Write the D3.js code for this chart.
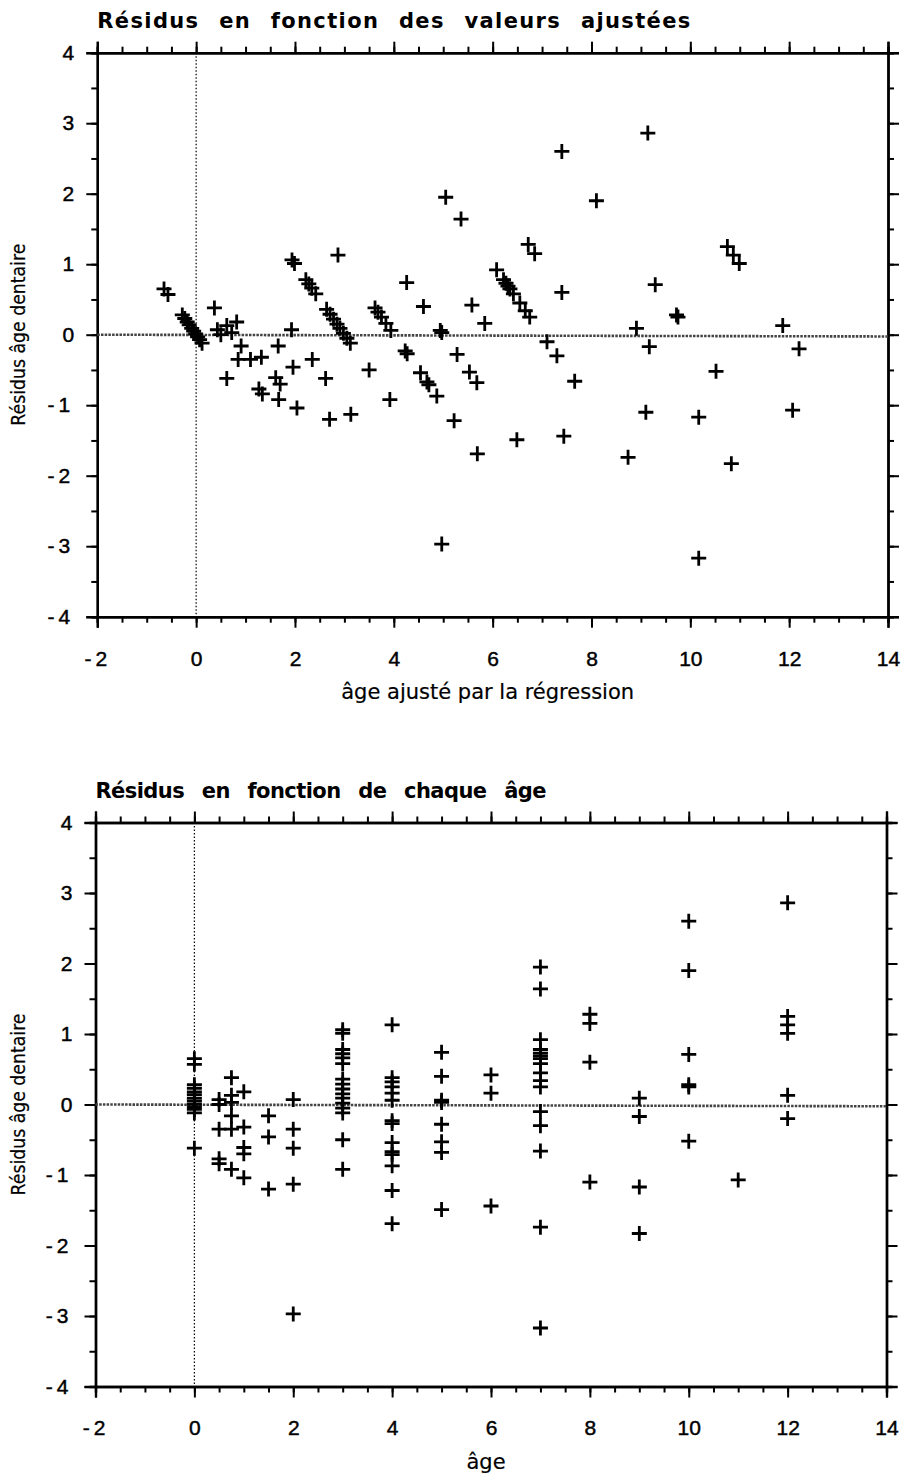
<html>
<head>
  <title>Résidus âge dentaire</title>
  <meta charset="utf-8" />
  <script src="https://cdnjs.cloudflare.com/ajax/libs/d3/7.8.5/d3.min.js"></script>
  <style>
    body { margin: 0; background: #fff; }
    text { font-family: "Liberation Sans", Arial, sans-serif; fill: #000; }
    .titre { font-family: "DejaVu Sans", Verdana, sans-serif; font-weight: bold; font-size: 21px; word-spacing: 11px; }
    .etiquette { font-family: "DejaVu Sans", Verdana, sans-serif; font-size: 21px; stroke: #000; stroke-width: 0.2px; }
    .domain { stroke-width: 2.4px; }
    .tick line { stroke-width: 2px; }
  </style>
</head>
<body>
  <svg></svg>
<script>

// chaque observation : âge réel, âge ajusté par la régression, résidu
var ages = [
  0, 0, 0, 0, 0, 0, 0, 0, 0, 0, 0, 0, 0,
  0.5, 0.5, 0.5, 0.5, 0.5,
  0.75, 0.75, 0.75, 0.75, 0.75, 0.75,
  1, 1, 1, 1, 1,
  1.5, 1.5, 1.5,
  2, 2, 2, 2, 2,
  3, 3, 3, 3, 3, 3, 3, 3, 3, 3, 3, 3, 3, 3, 3, 3,
  4, 4, 4, 4, 4, 4, 4, 4, 4, 4, 4, 4, 4, 4,
  5, 5, 5, 5, 5, 5, 5, 5,
  6, 6, 6,
  7, 7, 7, 7, 7, 7, 7, 7, 7, 7, 7, 7, 7, 7, 7, 7,
  8, 8, 8, 8,
  9, 9, 9, 9,
  10, 10, 10, 10, 10, 10,
  11,
  12, 12, 12, 12, 12, 12
]
var ajustes = [
  -0.65, -0.57, -0.28, -0.23, -0.18, -0.14, -0.09, -0.05, -0.01, 0.03, 0.07, 0.12, 0.62,
  0.43, 0.5, 0.85, 1.27, 1.34,
  0.37, 0.62, 0.72, 0.91, 1.10, 1.67,
  0.82, 1.32, 1.61, 1.70, 2.04,
  1.66, 1.96, 2.7,
  1.93, 2.35, 2.62, 3.13, 4.97,
  1.94, 1.99, 2.22, 2.28, 2.34, 2.42, 2.64, 2.71, 2.78, 2.85, 2.91, 2.98, 3.05, 3.12, 3.50, 3.92,
  2.87, 3.62, 3.68, 3.75, 3.84, 3.94, 4.23, 4.27, 4.54, 4.67, 4.71, 4.87, 5.22, 5.69,
  4.26, 4.60, 4.94, 4.97, 5.28, 5.53, 5.68, 6.49,
  5.58, 5.84, 7.44,
  5.05, 5.36, 6.08, 6.22, 6.27, 6.31, 6.35, 6.42, 6.55, 6.66, 6.75, 7.10, 7.30, 7.66, 8.74, 10.17,
  6.72, 6.85, 7.40, 9.10,
  8.91, 9.17, 10.17, 10.83,
  7.40, 8.10, 9.29, 9.72, 9.75, 10.52,
  12.07,
  9.14, 10.75, 10.87, 10.99, 11.87, 12.20
]
var residus = [
  0.65, 0.57, 0.28, 0.23, 0.18, 0.14, 0.09, 0.05, 0.01, -0.03, -0.07, -0.12, -0.62,
  0.07, 0.0, -0.35, -0.77, -0.84,
  0.38, 0.13, 0.03, -0.16, -0.35, -0.92,
  0.18, -0.32, -0.61, -0.70, -1.04,
  -0.16, -0.46, -1.2,
  0.07, -0.35, -0.62, -1.13, -2.97,
  1.06, 1.01, 0.78, 0.72, 0.66, 0.58, 0.36, 0.29, 0.22, 0.15, 0.09, 0.02, -0.05, -0.12, -0.50, -0.92,
  1.13, 0.38, 0.32, 0.25, 0.16, 0.06, -0.23, -0.27, -0.54, -0.67, -0.71, -0.87, -1.22, -1.69,
  0.74, 0.40, 0.06, 0.03, -0.28, -0.53, -0.68, -1.49,
  0.42, 0.16, -1.44,
  1.95, 1.64, 0.92, 0.78, 0.73, 0.69, 0.65, 0.58, 0.45, 0.34, 0.25, -0.10, -0.30, -0.66, -1.74, -3.17,
  1.28, 1.15, 0.60, -1.10,
  0.09, -0.17, -1.17, -1.83,
  2.60, 1.90, 0.71, 0.28, 0.25, -0.52,
  -1.07,
  2.86, 1.25, 1.13, 1.01, 0.13, -0.20
]

var xDomaine = [-2, 14]
var yDomaine = [-4, 4]
var xGraduations = [-2, 0, 2, 4, 6, 8, 10, 12, 14]
var yGraduations = [-4, -3, -2, -1, 0, 1, 2, 3, 4]
// ligne des résidus nuls (légèrement inclinée sur l'original)
var ligneZero = [0, -0.025]

var svg = d3.select("svg").attr("width", 906).attr("height", 1478)

function panneau(opts) {
  var x = d3.scaleLinear().domain(xDomaine).range([opts.left, opts.right])
  var y = d3.scaleLinear().domain(yDomaine).range([opts.bottom, opts.top])
  var g = svg.append("g")

  var xMineur = d3.range(-2, 14.01, 0.5)
  var yMineur = d3.range(-4, 4.01, 0.5)
  var fmt = d => d < 0 ? "-" + Math.abs(d) : d

  // petites graduations
  g.append("g").attr("transform", "translate(0," + opts.bottom + ")")
    .call(d3.axisBottom(x).tickValues(xMineur).tickSize(6).tickFormat(""))
  g.append("g").attr("transform", "translate(0," + opts.top + ")")
    .call(d3.axisTop(x).tickValues(xMineur).tickSize(6).tickFormat(""))
  g.append("g").attr("transform", "translate(" + opts.left + ",0)")
    .call(d3.axisLeft(y).tickValues(yMineur).tickSize(6).tickFormat(""))
  g.append("g").attr("transform", "translate(" + opts.right + ",0)")
    .call(d3.axisRight(y).tickValues(yMineur).tickSize(6).tickFormat(""))

  // grandes graduations
  g.append("g").attr("transform", "translate(0," + opts.bottom + ")")
    .call(d3.axisBottom(x).tickValues(xGraduations).tickSize(11).tickPadding(23).tickFormat(fmt))
  g.append("g").attr("transform", "translate(0," + opts.top + ")")
    .call(d3.axisTop(x).tickValues(xGraduations).tickSize(11).tickFormat(""))
  g.append("g").attr("transform", "translate(" + opts.left + ",0)")
    .call(d3.axisLeft(y).tickValues(yGraduations).tickSize(11).tickPadding(12).tickFormat(fmt))
  g.append("g").attr("transform", "translate(" + opts.right + ",0)")
    .call(d3.axisRight(y).tickValues(yGraduations).tickSize(11).tickFormat(""))
  g.selectAll(".domain").attr("stroke", "black")
  g.selectAll(".tick text")
    .style("font-family", "'Liberation Sans', Arial, sans-serif")
    .style("font-size", "21px")
    .style("stroke", "#000").style("stroke-width", "0.45px")
    .attr("letter-spacing", d => d < 0 ? "4px" : null)

  // repères x = 0 et résidu = 0
  g.append("line")
    .attr("x1", x(0)).attr("x2", x(0))
    .attr("y1", opts.top).attr("y2", opts.bottom)
    .attr("stroke", "black").attr("stroke-width", 1.2)
    .attr("stroke-dasharray", "1.5,2")
  g.append("line")
    .attr("x1", opts.left).attr("x2", opts.right)
    .attr("y1", y(ligneZero[0])).attr("y2", y(ligneZero[1]))
    .attr("stroke", "#444").attr("stroke-width", 2.6)
    .attr("stroke-dasharray", "2.5,1.2")

  g.append("g").selectAll("path")
    .data(opts.xs.map((v, i) => [v, residus[i]]))
    .join("path")
      .attr("transform", d => "translate(" + x(d[0]) + "," + y(d[1]) + ")")
      .attr("d", "M-7.5,0H7.5M0,-7.5V7.5")
      .attr("stroke", "black")
      .attr("stroke-width", 2.8)
      .attr("fill", "none")

  g.append("text").attr("class", "titre")
    .attr("x", opts.left).attr("y", opts.top - 25)
    .attr("textLength", opts.titreLargeur).attr("lengthAdjust", "spacing")
    .text(opts.titre)
  g.append("text").attr("class", "etiquette")
    .attr("text-anchor", "middle")
    .attr("x", (opts.left + opts.right) / 2 - 5).attr("y", opts.bottom + 82)
    .text(opts.xLabel)
  g.append("text").attr("class", "etiquette")
    .attr("text-anchor", "middle")
    .attr("transform", "translate(25," + y(0) + ") rotate(-90)")
    .attr("textLength", 182).attr("lengthAdjust", "spacingAndGlyphs")
    .style("font-size", "19px")
    .text("Résidus âge dentaire")
}

panneau({
  left: 97.3, right: 888, top: 52.7, bottom: 616.7,
  xs: ajustes,
  titre: "Résidus en fonction des valeurs ajustées",
  titreLargeur: 593,
  xLabel: "âge ajusté par la régression"
})

panneau({
  left: 95.5, right: 886.5, top: 822.5, bottom: 1386.5,
  xs: ages,
  titre: "Résidus en fonction de chaque âge",
  titreLargeur: 451,
  xLabel: "âge"
})

</script>
</body>
</html>
